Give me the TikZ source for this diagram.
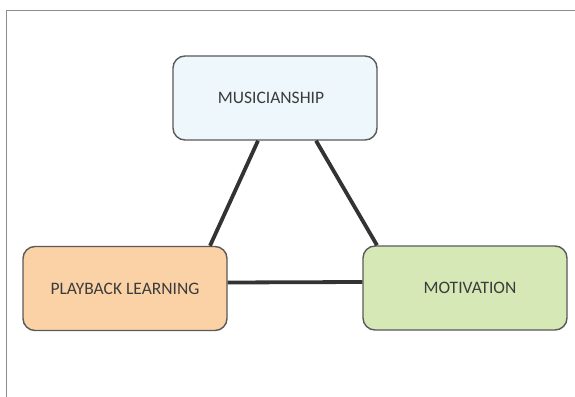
\documentclass[tikz,border=0pt]{standalone}
\usepackage{fontspec}
\setmainfont{Carlito}
\definecolor{frameline}{HTML}{8C8C8C}
\definecolor{boxline}{HTML}{5A5A5A}
\definecolor{linkline}{HTML}{333333}
\definecolor{textgray}{HTML}{3C3C3C}
\definecolor{bluefill}{HTML}{EEF7FB}
\definecolor{peachfill}{HTML}{FAD2A6}
\definecolor{greenfill}{HTML}{D5E8B6}
\begin{document}
\begin{tikzpicture}[x=1pt,y=-1pt,
  topic/.style={draw=boxline,line width=1.4pt,rounded corners=12pt,
    minimum width=204pt,minimum height=84pt,inner sep=0pt,
    text=textgray,font=\fontsize{17.5}{20}\selectfont},
  link/.style={draw=linkline,line width=3.8pt}]
\useasboundingbox (0,0) rectangle (575,396);
\fill[white] (0,0) rectangle (575,396);
% page frame
\draw[frameline,line width=1.4pt] (6.5,400) -- (6.5,10.5) -- (580,10.5);
% topic boxes
\node[topic,fill=bluefill] (mus) at (275,98) {\hspace*{-8pt}MUSICIANSHIP};
\node[topic,fill=peachfill] (play) at (125,288.5) {PLAYBACK LEARNING};
\node[topic,fill=greenfill] (mot) at (465,288) {\hspace*{10pt}MOTIVATION};
% connectors
\path[link] ([xshift=-17pt]mus.south) -- ([xshift=85pt]play.north);
\path[link] ([xshift=41pt]mus.south) -- ([xshift=-88pt]mot.north);
\path[link] ([yshift=6pt]play.east) -- ([yshift=6pt]mot.west);
\end{tikzpicture}
\end{document}
